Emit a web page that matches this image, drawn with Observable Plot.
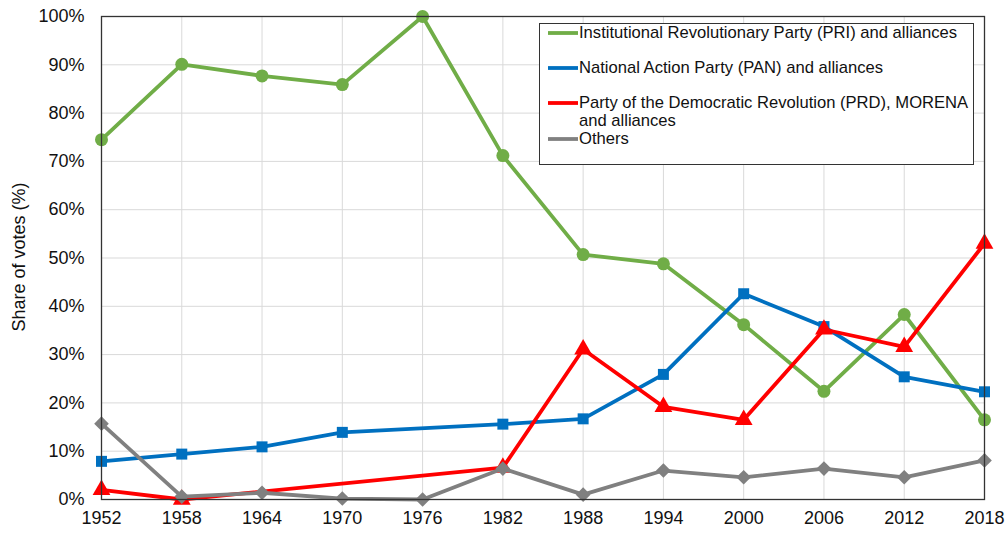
<!DOCTYPE html>
<html>
<head>
<meta charset="utf-8">
<script src="https://cdn.jsdelivr.net/npm/d3@7"></script>
<script src="https://cdn.jsdelivr.net/npm/@observablehq/plot@0.6"></script>
<style>
  body { margin: 0; background: #fff; }
  #wrap { position: relative; width: 1008px; height: 534px; font-family: "Liberation Sans", Arial, sans-serif; }
  #legend { position: absolute; left: 539px; top: 23px; width: 435px; height: 142px; border: 1.3px solid #333; background: #fff; box-sizing: border-box; }
  .entry { position: absolute; left: 8px; display: flex; align-items: flex-start; font-size: 16.6px; line-height: 18px; color: #111; white-space: nowrap; }
  .entry svg { flex: none; margin-right: 1px; margin-top: 3px; }
  #ytitle { position: absolute; left: 19px; top: 257px; transform: translate(-50%, -50%) rotate(-90deg); font-size: 18px; color: #111; white-space: nowrap; }
</style>
</head>
<body>
<div id="wrap"></div>
<script>
const years = [1952, 1958, 1964, 1970, 1976, 1982, 1988, 1994, 2000, 2006, 2012, 2018];
const pri    = [74.5, 90.1, 87.7, 85.9, 100, 71.2, 50.7, 48.8, 36.2, 22.4, 38.3, 16.5];
const pan    = [7.9, 9.4, 10.9, 13.9, null, 15.6, 16.7, 25.9, 42.6, 35.8, 25.4, 22.3];
const prd    = [2.0, 0, null, null, null, 6.6, 31.1, 19.2, 16.5, 35.2, 31.6, 53.0];
const others = [15.7, 0.6, 1.4, 0.2, 0, 6.4, 1.0, 6.0, 4.6, 6.4, 4.6, 8.1];
const yTicks = [0, 10, 20, 30, 40, 50, 60, 70, 80, 90, 100];
const yTitle = "Share of votes (%)";

const seriesNames = [
  "Institutional Revolutionary Party (PRI) and alliances",
  "National Action Party (PAN) and alliances",
  "Party of the Democratic Revolution (PRD), MORENA<br>and alliances",
  "Others"
];
const seriesValues = [pri, pan, prd, others];
const seriesColors = ["#70AD47", "#0070C0", "#FF0000", "#808080"];
const seriesSymbols = ["circle", "square", "triangle", "diamond2"];
const seriesR = [6.5, 6.2, 6.6, 6.6];

const marks = [
  Plot.gridX(years, {stroke: "#d9d9d9", strokeOpacity: 1, strokeWidth: 1}),
  Plot.gridY(yTicks, {stroke: "#d9d9d9", strokeOpacity: 1, strokeWidth: 1})
];
seriesValues.forEach((vals, i) => {
  const data = years.map((y, j) => ({year: y, value: vals[j]})).filter(d => d.value != null);
  marks.push(Plot.line(data, {x: "year", y: "value", stroke: seriesColors[i], strokeWidth: 3.8}));
  marks.push(Plot.dot(data, {x: "year", y: "value", fill: seriesColors[i], stroke: "none", symbol: () => seriesSymbols[i], r: seriesR[i]}));
});
marks.push(Plot.frame({stroke: "#333", strokeWidth: 1.3}));

const chart = Plot.plot({
  width: 1008,
  height: 534,
  marginLeft: 101,
  marginRight: 24,
  marginTop: 16,
  marginBottom: 35,
  style: {fontFamily: '"Liberation Sans", Arial, sans-serif', fontSize: "18px", color: "#111", background: "#fff"},
  x: {domain: [1952, 2018], ticks: years, tickFormat: "d", tickSize: 0, tickPadding: 12, label: null},
  y: {domain: [0, 100], ticks: yTicks, tickFormat: d => d + "%", tickSize: 0, tickPadding: 17, label: null},
  symbol: {type: "identity"},
  marks
});
const wrap = document.getElementById("wrap");
wrap.appendChild(chart);

const yt = document.createElement("div");
yt.id = "ytitle";
yt.textContent = yTitle;
wrap.appendChild(yt);

// legend
const legend = document.createElement("div");
legend.id = "legend";
const tops = [0, 35, 70, 106];
seriesNames.forEach((name, i) => {
  const e = document.createElement("div");
  e.className = "entry";
  e.style.top = tops[i] + "px";
  const sym = {circle: d3.symbolCircle, square: d3.symbolSquare, triangle: d3.symbolTriangle, diamond2: d3.symbolDiamond2}[seriesSymbols[i]];
  const path = d3.symbol(sym, 16).size()();
  e.innerHTML = `<svg width="30" height="12" viewBox="0 0 30 12"><line x1="0" y1="6" x2="30" y2="6" stroke="${seriesColors[i]}" stroke-width="3.8"/><path d="${path}" transform="translate(15,6)" fill="${seriesColors[i]}"/></svg><span>${name}</span>`;
  legend.appendChild(e);
});
wrap.appendChild(legend);
</script>
</body>
</html>
